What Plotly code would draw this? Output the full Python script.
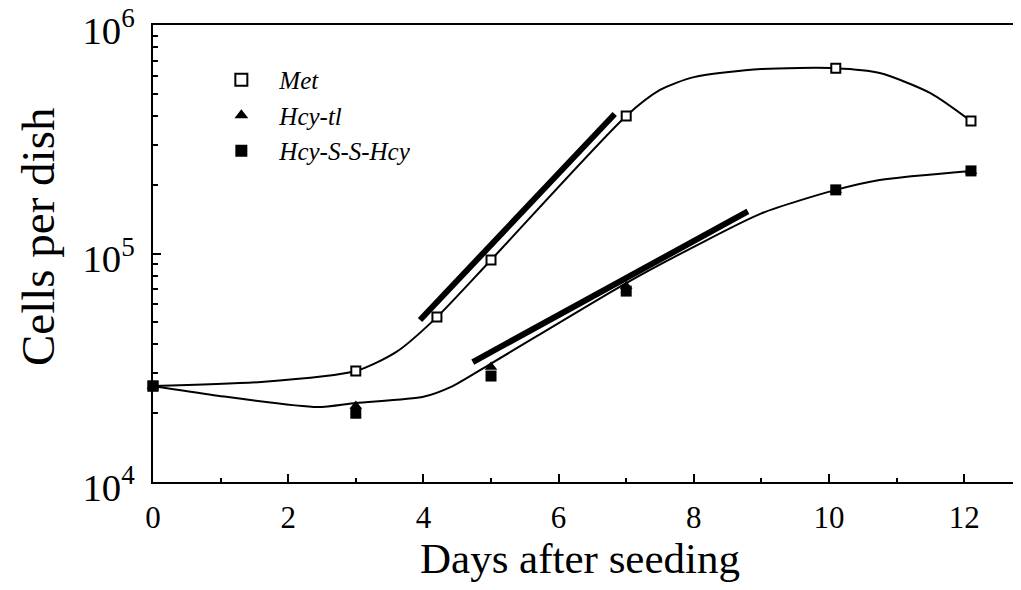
import plotly.graph_objects as go

# ---- data ----
days_met = [0, 3, 4.2, 5, 7, 10.1, 12.1]
met = [2.63e4, 3.06e4, 5.27e4, 9.37e4, 4.0e5, 6.48e5, 3.80e5]

days_tl = [0, 3, 5, 7, 10.1, 12.1]
hcy_tl = [2.63e4, 2.15e4, 3.19e4, 7.2e4, 1.9e5, 2.3e5]

days_ss = [0, 3, 5, 7, 10.1, 12.1]
hcy_ss = [2.63e4, 2.0e4, 2.91e4, 6.85e4, 1.9e5, 2.3e5]

# smooth curves drawn through the data (knots)
met_curve_x = [0, 1.6, 3, 3.6, 4.2, 5, 7, 7.5, 8, 9, 10.1, 10.75, 11.5, 12.1]
met_curve_y = [2.63e4, 2.74e4, 3.06e4, 3.71e4, 5.27e4, 9.37e4, 4.0e5,
               5.2e5, 5.92e5, 6.42e5, 6.48e5, 6.17e5, 5.04e5, 3.80e5]

hcy_curve_x = [0, 0.9, 2.43, 3, 4, 4.4, 5, 7, 8, 9, 10.1, 10.75, 12.1]
hcy_curve_y = [2.63e4, 2.40e4, 2.13e4, 2.22e4, 2.36e4, 2.6e4, 3.3e4, 7.43e4,
               1.07e5, 1.50e5, 1.90e5, 2.10e5, 2.30e5]

# regression (thick) lines
met_fit_x = [3.95, 6.83]
met_fit_y = [5.12e4, 4.08e5]
hcy_fit_x = [4.73, 8.80]
hcy_fit_y = [3.35e4, 1.53e5]

x_ticks = [0, 2, 4, 6, 8, 10, 12]

FONT = "Liberation Serif"

fig = go.Figure()

fig.add_trace(go.Scatter(x=met_curve_x, y=met_curve_y, mode="lines",
                         line=dict(color="black", width=2, shape="spline", smoothing=0.7),
                         showlegend=False, hoverinfo="skip"))
fig.add_trace(go.Scatter(x=hcy_curve_x, y=hcy_curve_y, mode="lines",
                         line=dict(color="black", width=2, shape="spline", smoothing=0.7),
                         showlegend=False, hoverinfo="skip"))
fig.add_trace(go.Scatter(x=met_fit_x, y=met_fit_y, mode="lines",
                         line=dict(color="black", width=6),
                         showlegend=False, hoverinfo="skip"))
fig.add_trace(go.Scatter(x=hcy_fit_x, y=hcy_fit_y, mode="lines",
                         line=dict(color="black", width=6),
                         showlegend=False, hoverinfo="skip"))

fig.add_trace(go.Scatter(x=days_met, y=met, mode="markers", name="Met",
                         marker=dict(symbol="square", size=9, color="white",
                                     line=dict(color="black", width=2)),
                         cliponaxis=False))
fig.add_trace(go.Scatter(x=days_tl, y=hcy_tl, mode="markers", name="Hcy-tl",
                         marker=dict(symbol="triangle-up", size=11, color="black",
                                     line=dict(width=0)),
                         cliponaxis=False))
fig.add_trace(go.Scatter(x=days_ss, y=hcy_ss, mode="markers", name="Hcy-S-S-Hcy",
                         marker=dict(symbol="square", size=11, color="black",
                                     line=dict(width=0)),
                         cliponaxis=False))

fig.update_layout(
    width=1013, height=582,
    margin=dict(l=145, r=0, t=17, b=108, autoexpand=False),
    paper_bgcolor="white", plot_bgcolor="white",
    font=dict(family=FONT, color="black"),
    showlegend=True,
    legend=dict(x=0.058, y=0.93, xanchor="left", yanchor="top",
                bgcolor="rgba(0,0,0,0)", borderwidth=0, itemwidth=66,
                font=dict(family=FONT, size=25, style="italic", color="black"),
                itemsizing="constant", tracegroupgap=0),
    annotations=[
        dict(text="Days after seeding", xref="paper", yref="paper",
             x=0.492, y=-0.168, xanchor="center", yanchor="middle",
             showarrow=False, font=dict(family=FONT, size=43, color="black")),
        dict(text="Cells per dish", xref="paper", yref="paper",
             x=-0.1325, y=0.536, xanchor="center", yanchor="middle", textangle=-90,
             showarrow=False, font=dict(family=FONT, size=47, color="black")),
    ],
)

fig.update_xaxes(
    range=[0, 12.84], tickvals=x_ticks, ticktext=[str(v) for v in x_ticks],
    showgrid=False, zeroline=False, automargin=False,
    showline=True, linecolor="black", linewidth=2, mirror=True,
    ticks="inside", ticklen=8, tickwidth=2, tickcolor="black",
    tickfont=dict(family=FONT, size=31), ticklabelstandoff=7,
    ticklabeloverflow="allow",
    minor=dict(tickvals=[1, 3, 5, 7, 9, 11], ticks="inside", ticklen=4, tickwidth=2,
               tickcolor="black", showgrid=False),
)

fig.update_yaxes(
    type="log", range=[4, 6.0005], dtick=1, exponentformat="power",
    showgrid=False, zeroline=False, automargin=False,
    showline=True, linecolor="black", linewidth=2, mirror=False,
    ticks="inside", ticklen=8, tickwidth=2, tickcolor="black",
    tickfont=dict(family=FONT, size=31), ticklabelstandoff=10, ticklabelshift=5,
    ticklabeloverflow="allow",
    minor=dict(dtick="D1", ticks="inside", ticklen=5, tickwidth=2,
               tickcolor="black", showgrid=False),
)

fig.write_html("out.html")
